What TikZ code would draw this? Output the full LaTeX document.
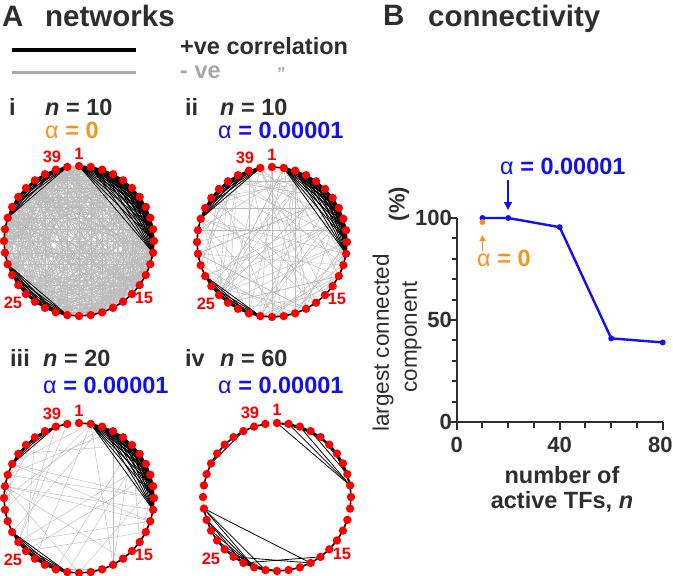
\documentclass[tikz,border=0pt]{standalone}
\usepackage{fontspec}
\setmainfont{Liberation Sans}
\usetikzlibrary{arrows.meta,calc}
\definecolor{txt}{HTML}{2E2E2E}
\definecolor{orng}{HTML}{F7941D}
\definecolor{blu}{HTML}{1010F0}
\definecolor{rd}{HTML}{FF0000}
\definecolor{gry}{HTML}{BBBBBB}
\definecolor{legg}{HTML}{A8A8A8}
\newcommand\fsz{\fontsize{23.5}{27}\selectfont}
\tikzset{
  dot/.style={circle, fill=rd, inner sep=0pt, minimum size=8.4pt},
  poschord/.style={black, line width=0.8pt},
  negc/.style={gry, line width=0.42pt},
  ringseg/.style={black, line width=1.6pt},
  nlbl/.style={font=\fontsize{16.5}{16.5}\selectfont\bfseries, text=rd, inner sep=0pt},
  ptxt/.style={font=\fsz\bfseries, text=txt, inner sep=0pt, anchor=base west},
  ttl/.style={font=\fontsize{29.5}{32}\selectfont\bfseries, text=txt, inner sep=0pt, anchor=base west},
  axl/.style={font=\fontsize{22}{26}\selectfont\bfseries, text=txt, inner sep=0pt},
  axt/.style={font=\fontsize{22.5}{26}\selectfont, text=txt, inner sep=0pt},
  axisln/.style={txt, line width=2pt},
  dataln/.style={blu, line width=2.4pt, line join=round},
  bdot/.style={circle, fill=blu, inner sep=0pt, minimum size=6pt},
  odot/.style={circle, fill=orng, inner sep=0pt, minimum size=6pt},
}
% network helpers
\newcommand\mknet[3]{% prefix, centre, radius
  \foreach \k in {1,...,40}{\coordinate (#1\k) at ($(#2)+({90-9*(\k-1)}:#3)$);}}
\newcommand\ringnet[1]{%
  \foreach \k in {1,...,39}{\pgfmathtruncatemacro\nx{\k+1}\draw[ringseg] (#1\k) -- (#1\nx);}}
\newcommand\clique[3]{%
  \foreach \ca in {#2,...,#3}{\foreach \cb in {\ca,...,#3}{\ifnum\cb>\ca \draw[poschord] (#1\ca) -- (#1\cb);\fi}}}
\newcommand\negchords[3]{%
  \pgfmathsetseed{#3}%
  \foreach \m in {1,...,#2}{%
    \pgfmathrandominteger{\ra}{1}{40}%
    \pgfmathrandominteger{\rb}{1}{40}%
    \pgfmathtruncatemacro\mda{(\ra<=12) ? 1 : (((\ra>=22) && (\ra<=29)) ? 2 : ((\ra>=33) ? 3 : 0))}%
    \pgfmathtruncatemacro\mdb{(\rb<=12) ? 1 : (((\rb>=22) && (\rb<=29)) ? 2 : ((\rb>=33) ? 3 : 0))}%
    \pgfmathtruncatemacro\ok{((\mda!=\mdb) || ((\mda==0) && (abs(\ra-\rb)>5))) ? 1 : 0}%
    \ifnum\ok=1 \draw[negc] (#1\ra) -- (#1\rb);\fi
  }}
\newcommand\netdots[1]{%
  \foreach \k in {1,...,40}{\node[dot] (#1n\k) at (#1\k) {};}%
  \node[nlbl] (#1L1) at ($(#1c)+(0,87)$) {1};
  \node[nlbl] (#1L39) at ($(#1c)+(-27,84)$) {39};
  \node[nlbl] (#1L15) at ($(#1c)+(65,-57)$) {15};
  \node[nlbl] (#1L25) at ($(#1c)+(-66,-62)$) {25};}
\begin{document}
\begin{tikzpicture}[x=1pt,y=1pt]
\useasboundingbox (0,0) rectangle (673,-576);
% ---------- titles ----------
\node[ttl] (tA) at (2,-26) {A};
\node[ttl] (tnet) at (45,-26.5) {networks};
\node[ttl] (tB) at (383,-25.5) {B};
\node[ttl] (tcon) at (428,-26.5) {connectivity};
% ---------- legend ----------
\coordinate (lp1) at (12,-50); \coordinate (lp2) at (136,-50);
\coordinate (ln1) at (12,-72); \coordinate (ln2) at (136,-72);
\draw[black, line width=3.3pt] (lp1) -- (lp2);
\draw[legg, line width=3pt] (ln1) -- (ln2);
\node[ptxt] (lpos) at (180,-54.3) {+ve correlation};
\node[ptxt, text=legg] (lneg) at (180,-78) {- ve};
\node[ptxt, text=legg, font=\fontsize{17}{17}\selectfont\bfseries] (ldit) at (277,-79.5) {\symbol{34}};
% ---------- panel labels ----------
\node[ptxt] (pi) at (9,-115) {i};
\node[ptxt] (pin) at (45,-115) {\textit{n} = 10};
\node[ptxt, text=orng] (pia) at (45,-138.3) {\mdseries α\bfseries{} = 0};
\node[ptxt] (pii) at (185,-115) {ii};
\node[ptxt] (piin) at (220,-115) {\textit{n} = 10};
\node[ptxt, text=blu] (piia) at (218,-138.3) {\mdseries α\bfseries{} = 0.00001};
\node[ptxt] (piii) at (10,-366.7) {iii};
\node[ptxt] (piiin) at (43,-366.7) {\textit{n} = 20};
\node[ptxt, text=blu] (piiia) at (43,-393.3) {\mdseries α\bfseries{} = 0.00001};
\node[ptxt] (piv) at (185,-366.7) {iv};
\node[ptxt] (pivn) at (220,-366.7) {\textit{n} = 60};
\node[ptxt, text=blu] (piva) at (218,-393.3) {\mdseries α\bfseries{} = 0.00001};
% ---------- networks ----------
\coordinate (ac) at (79,-241);
\coordinate (bc) at (272,-242);
\coordinate (cc) at (79,-498);
\coordinate (dc) at (277,-497);
\mknet{a}{ac}{75}
\mknet{b}{bc}{75}
\mknet{c}{cc}{75}
\mknet{d}{dc}{74}
% i
\negchords{a}{720}{11}
\ringnet{a}
\clique{a}{1}{12}\clique{a}{22}{29}\clique{a}{33}{40}
% ii
\negchords{b}{120}{23}
\ringnet{b}
\clique{b}{2}{12}\clique{b}{22}{28}\clique{b}{33}{40}
% iii
\negchords{c}{42}{5}
\ringnet{c}
\clique{c}{2}{12}\clique{c}{22}{28}\clique{c}{34}{39}
% iv
\foreach \k in {1,...,39}{\pgfmathtruncatemacro\nx{\k+1}%
  \ifnum\k=12 \draw[negc] (d\k) -- (d\nx);\else
  \ifnum\k=30 \draw[negc] (d\k) -- (d\nx);\else
  \ifnum\k=31 \draw[negc] (d\k) -- (d\nx);\else
  \draw[ringseg] (d\k) -- (d\nx);\fi\fi\fi}
\foreach \u/\v in {1/10,2/10,3/10,4/9,1/4,2/5,3/6,5/8,6/9,7/10,38/34,
  30/18,30/22,30/23,29/23,29/24,28/23,27/23,26/22,25/22,24/21,25/18,24/17}
  {\draw[poschord] (d\u) -- (d\v);}
\netdots{a}\netdots{b}\netdots{c}\netdots{d}
% ---------- plot B ----------
\begin{scope}[shift={(456.7,-422)}, x=2.575pt, y=2.04pt]
  \coordinate (o) at (0,0); \coordinate (ytop) at (0,100); \coordinate (xend) at (80,0);
  \draw[axisln] (ytop) -- (o) -- (xend);
  \foreach \v in {10,20,30,40,60,70,80,90} \draw[axisln] (0,\v) -- ++(-5pt,0);
  \foreach \v in {0,50,100} \draw[axisln] (0,\v) -- ++(-8pt,0);
  \foreach \v in {10,20,30,50,60,70} \draw[axisln] (\v,0) -- ++(0,-5.5pt);
  \foreach \v in {0,40,80} \draw[axisln] (\v,0) -- ++(0,-7.5pt);
  \node[axl, anchor=east] (y100) at ([xshift=-4.7pt]0,100) {100};
  \node[axl, anchor=east] (y50) at ([xshift=-4.7pt]0,50) {50};
  \node[axl, anchor=east] (y0) at ([xshift=-4.7pt]0,0) {0};
  \node[axl, anchor=north] (x0) at ([yshift=-15pt]0,0) {0};
  \node[axl, anchor=north] (x40) at ([yshift=-15pt]40,0) {40};
  \coordinate (p1) at (10,100); \coordinate (p2) at (20,100);
  \coordinate (p3) at (40,95.5); \coordinate (p4) at (60,41); \coordinate (p5) at (80,39);
  \coordinate (q1) at (10,98);
  \draw[dataln] (p1) -- (p2) -- (p3) -- (p4) -- (p5);
  \foreach \p in {p1,p2,p3,p4,p5} \node[bdot] (d\p) at (\p) {};
  \node[odot] (dq1) at (q1) {};
\end{scope}
\node[axl, anchor=north east] (x80) at (672.8,-437) {80};
% axis titles
\node[axt, rotate=90] (yt1) at (383,-343) {largest connected};
\node[axt, rotate=90] (yt2) at (412,-337) {component};
\node[axl, rotate=90] (yt3) at (399,-204) {(\%)};
\node[ptxt, anchor=base] (xt1) at (562,-483) {number of};
\node[ptxt, anchor=base] (xt2) at (562,-508) {active TFs, \textit{n}};
% annotations
\node[ptxt, text=blu] (ab) at (500,-174) {\mdseries α\bfseries{} = 0.00001};
\coordinate (ab1) at (508,-180); \coordinate (ab2) at (508,-210);
\draw[blu, line width=1.3pt, -{Triangle[length=8pt,width=8pt]}] (ab1) -- (ab2);
\node[ptxt, text=orng] (ao) at (477,-266.7) {\mdseries α\bfseries{} = 0};
\coordinate (ao1) at (482.5,-251); \coordinate (ao2) at (482.5,-235);
\draw[orng, line width=1.3pt, -{Triangle[length=6pt,width=6pt]}] (ao1) -- (ao2);
\end{tikzpicture}
\end{document}
